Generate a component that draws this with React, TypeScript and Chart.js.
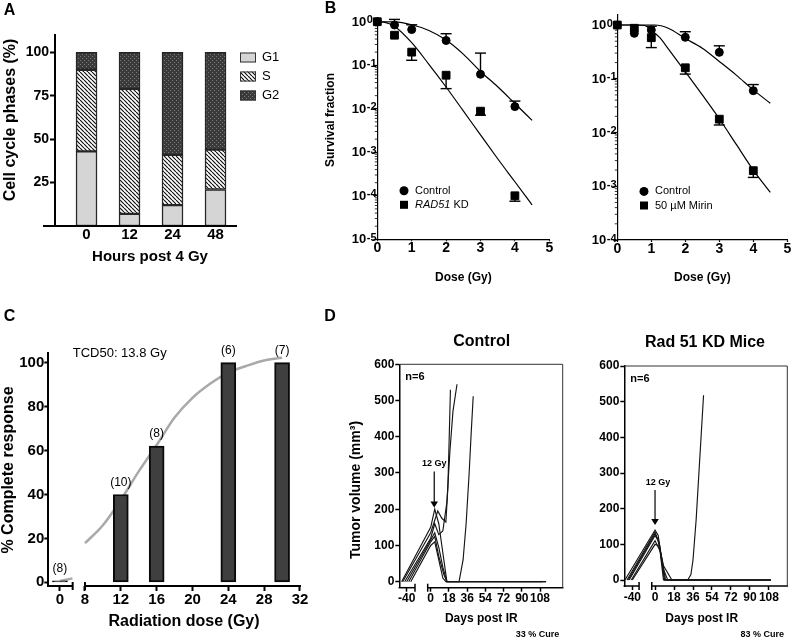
import React, { useEffect, useRef } from 'react';
import { Chart, registerables, LinearScale } from 'chart.js';

const FAMILY = '"Liberation Sans", Arial, Helvetica, sans-serif';

Chart.register(...registerables);
Chart.defaults.color = '#000';
Chart.defaults.font.family = FAMILY;

// ================= DATA =================
// Panel A – cell cycle phases (%)
const A_HOURS = ['0', '12', '24', '48'];
const A_PHASES = ['G1', 'S', 'G2'];
const A_G1 = [43, 7, 12, 21];
const A_S = [47, 72, 29, 23];
const A_G2 = [10, 21, 59, 56];
const A_Y_TICKS = [25, 50, 75, 100];

// Panel B – survival fraction
const B_DOSE = [0, 0.5, 1, 2, 3, 4];
const B_X_TICKS = [0, 1, 2, 3, 4, 5];
const B1_CONTROL = [1.0, 0.84, 0.66, 0.37, 0.062, 0.0112];
const B1_CONTROL_ERR_HI = [null, 1.13, 0.85, 0.53, 0.19, 0.015];
const B1_KD = [1.0, 0.49, 0.2, 0.059, 0.0088, 0.0001];
const B1_KD_ERR_LO = [null, null, 0.13, 0.029, 0.0071, 0.000075];
const B1_CONTROL_FIT_DOSE = [0, 0.5, 1, 1.5, 2, 2.5, 3, 3.5, 4, 4.5];
const B1_CONTROL_FIT = [1, 0.99, 0.85, 0.63, 0.38, 0.18, 0.072, 0.032, 0.0132, 0.0054];
const B1_KD_FIT_DOSE = [0, 0.25, 0.5, 1, 1.5, 2, 2.5, 3, 3.5, 4, 4.5];
const B1_KD_FIT = [1, 0.955, 0.79, 0.33, 0.105, 0.0316, 0.0089, 0.0025, 0.00071, 0.00021, 0.000062];
const B1_Y_EXP = [0, -1, -2, -3, -4, -5];

const B2_CONTROL = [1.0, 0.7, 0.81, 0.59, 0.31, 0.06];
const B2_CONTROL_ERR_HI = [null, null, 0.95, 0.75, 0.41, 0.078];
const B2_MIRIN = [1.0, 0.87, 0.58, 0.16, 0.0177, 0.00195];
const B2_MIRIN_ERR_LO = [null, null, 0.38, 0.122, 0.0138, 0.00146];
const B2_CONTROL_FIT_DOSE = [0, 0.5, 1, 1.1, 1.5, 2, 2.5, 3, 3.5, 4, 4.5];
const B2_CONTROL_FIT = [1, 1, 1, 1, 0.87, 0.56, 0.37, 0.21, 0.117, 0.062, 0.035];
const B2_MIRIN_FIT_DOSE = [0, 0.5, 0.8, 1, 1.25, 1.5, 2, 2.5, 3, 3.5, 4, 4.5];
const B2_MIRIN_FIT = [1, 1, 0.98, 0.8, 0.58, 0.36, 0.135, 0.05, 0.018, 0.006, 0.002, 0.00077];
const B2_Y_EXP = [0, -1, -2, -3, -4];

// Panel C – % complete response
const C_DOSE = [0, 12, 16, 24, 30];
const C_RESPONSE = [0.7, 40, 62, 100, 100];
const C_N = [8, 10, 8, 6, 7];
const C_X_TICKS = [0, 8, 12, 16, 20, 24, 28, 32];
const C_Y_TICKS = [0, 20, 40, 60, 80, 100];
const C_FIT_LOW_DOSE = [0, 1.4];
const C_FIT_LOW = [0.6, 1.8];
const C_FIT_DOSE = [8, 10, 12, 14, 16, 18, 20, 22, 24, 26, 28, 30];
const C_FIT = [17.8, 26, 37.5, 50.5, 62.5, 75, 84, 90.5, 95.5, 98.5, 101, 102.3];

// Panel D – tumor volume (day, mm3)
const D_X_TICKS = [-40, 0, 18, 36, 54, 72, 90, 108];
const D_Y_TICKS = [0, 100, 200, 300, 400, 500, 600];
const CTRL_M1 = [[-45, 0], [0, 150], [4, 200], [8, 160], [12, 80], [16, 0], [114, 0]];
const CTRL_M2 = [[-44, 0], [0, 135], [7, 195], [11, 175], [15, 165], [17, 260], [18.5, 420], [19.5, 530]];
const CTRL_M3 = [[-42, 0], [0, 120], [4, 160], [8, 130], [12, 140], [16, 220], [19, 360], [22, 470], [26, 545]];
const CTRL_M4 = [[-40, 0], [0, 115], [4, 135], [8, 95], [12, 40], [16, 0], [28, 0], [32, 60], [35, 160], [38, 300], [40, 410], [42, 512]];
const CTRL_M5 = [[-38, 0], [0, 110], [4, 125], [8, 70], [13, 20], [16, 0], [114, 0]];
const CTRL_M6 = [[-36, 0], [0, 100], [4, 110], [8, 60], [12, 10], [15, 0], [110, 0]];
const KD_M1 = [[-47, 0], [0, 140], [3, 125], [6, 60], [9, 0], [110, 0]];
const KD_M2 = [[-45, 0], [0, 135], [4, 100], [8, 0], [110, 0]];
const KD_M3 = [[-43, 0], [0, 125], [3, 110], [7, 50], [10, 0], [110, 0]];
const KD_M4 = [[-41, 0], [0, 110], [5, 80], [9, 0], [110, 0]];
const KD_M5 = [[-40, 0], [0, 100], [4, 95], [8, 40], [16, 0], [52, 0]];
const KD_M6 = [[-44, 0], [0, 130], [4, 105], [8, 30], [12, 0], [31, 0], [34, 15], [36, 56], [39, 170], [42, 320], [46, 518]];
const D1_ARROW = { day: 3.5, top: 304, tip: 205, label: 327, dx: 0 };
const D2_ARROW = { day: 0, top: 252, tip: 154, label: 273, dx: 3 };

// ================= LAYOUT =================
type Rect = { x: number; y: number; w: number; h: number };
type Area = { L: number; T: number; R: number; B: number };

const RECT_A: Rect = { x: 0, y: 0, w: 300, h: 300 };
const AREA_A: Area = { L: 55, T: 35, R: 237, B: 226 };
const RECT_B1: Rect = { x: 300, y: 0, w: 260, h: 300 };
const AREA_B1: Area = { L: 377.3, T: 17.5, R: 549.3, B: 239.3 };
const RECT_B2: Rect = { x: 550, y: 0, w: 250, h: 300 };
const AREA_B2: Area = { L: 617.3, T: 15, R: 787.3, B: 240 };
const RECT_C: Rect = { x: 0, y: 300, w: 330, h: 341 };
const AREA_C: Area = { L: 48.3, T: 352.7, R: 300, B: 586 };
const RECT_D1: Rect = { x: 320, y: 300, w: 265, h: 341 };
const AREA_D1: Area = { L: 399.3, T: 364.3, R: 562.7, B: 587.7 };
const RECT_D2: Rect = { x: 575, y: 300, w: 225, h: 341 };
const AREA_D2: Area = { L: 624.3, T: 366, R: 787.3, B: 586 };

const C_BREAK = { a0: -1.3, a1: 1.42, b0: 8, b1: 32, gap: 12.3 };
const D1_BREAK = { a0: -47.3, a1: -31.8, b0: -2.96, b1: 130.4, gap: 12.7 };
const D2_BREAK = { a0: -47.6, a1: -33.6, b0: -3.1, b1: 125.4, gap: 12.7 };

// ================= HELPERS =================
const bold = (size: number, lineHeight = 1.2) => ({ family: FAMILY, size, weight: 'bold', lineHeight });
const mk = (xs: number[], ys: any[]) => xs.map((x, i) => ({ x, y: ys[i] }));
const mkPairs = (pairs: number[][]) => pairs.map(([x, y]) => ({ x, y }));

function padFor(c: Rect, a: Area, yW: number, xH: number) {
  return { left: a.L - c.x - yW, top: a.T - c.y, right: c.x + c.w - a.R, bottom: c.y + c.h - a.B - xH };
}

function baseOptions(c: Rect, a: Area, yW: number, xH: number) {
  return {
    responsive: false,
    maintainAspectRatio: false,
    animation: false,
    devicePixelRatio: 1,
    events: [],
    layout: { padding: padFor(c, a, yW, xH) },
    plugins: { legend: { display: false }, tooltip: { enabled: false }, title: { display: false } },
  };
}

function yAxis(yW: number, tickLen: number, width: number, size: number, pad: number) {
  return {
    afterFit: (s: any) => { s.width = yW; },
    grid: { display: true, drawOnChartArea: false, drawTicks: true, tickLength: tickLen, tickWidth: width, tickColor: '#000', offset: false },
    border: { display: true, color: '#000', width },
    ticks: { autoSkip: false, font: bold(size), color: '#000', padding: pad },
  };
}

function xAxisBroken(type: string, brk: any, ticks: number[], xH: number, tickLen: number, width: number, size: number) {
  return {
    type, min: brk.a0, max: brk.b1, offset: false,
    afterBuildTicks: (s: any) => { s.ticks = ticks.map((value) => ({ value })); },
    afterFit: (s: any) => { s.height = xH; },
    grid: { display: true, drawOnChartArea: false, drawTicks: true, tickLength: tickLen, tickWidth: width, tickColor: '#000', offset: false },
    border: { display: false },
    ticks: { autoSkip: false, maxRotation: 0, minRotation: 0, padding: 0, font: bold(size), color: '#000', callback: (v: any) => String(v) },
  };
}

function txt(ctx: any, s: string, x: number, y: number, o: any) {
  ctx.save();
  ctx.font = `${o.italic ? 'italic ' : ''}${o.bold ? 'bold ' : ''}${o.size}px ${FAMILY}`;
  ctx.fillStyle = o.color || '#000';
  ctx.textAlign = o.align || 'center';
  ctx.textBaseline = o.base || 'middle';
  ctx.translate(x, y);
  if (o.rot) ctx.rotate(o.rot);
  ctx.fillText(s, 0, 0);
  ctx.restore();
}

function line(ctx: any, x1: number, y1: number, x2: number, y2: number, w = 1, color = '#000') {
  ctx.save();
  ctx.strokeStyle = color;
  ctx.lineWidth = w;
  ctx.beginPath();
  ctx.moveTo(x1, y1);
  ctx.lineTo(x2, y2);
  ctx.stroke();
  ctx.restore();
}

function makeBrokenScale(id: string, brk: any) {
  const { a0, a1, b0, b1, gap } = brk;
  class BrokenScale extends LinearScale {
    static id = id;
    static defaults = LinearScale.defaults;
    getPixelForValue(value: any) {
      if (value === null || value === undefined || isNaN(value)) return NaN;
      const self: any = this;
      const k = (self.width - gap) / ((a1 - a0) + (b1 - b0));
      const xa1 = self.left + (a1 - a0) * k;
      if (value <= a1) return self.left + (value - a0) * k;
      if (value >= b0) return xa1 + gap + (value - b0) * k;
      return xa1 + ((value - a1) / (b0 - a1)) * gap;
    }
    getValueForPixel(pixel: number) {
      const self: any = this;
      const k = (self.width - gap) / ((a1 - a0) + (b1 - b0));
      const xa1 = self.left + (a1 - a0) * k;
      if (pixel <= xa1) return a0 + (pixel - self.left) / k;
      if (pixel >= xa1 + gap) return b0 + (pixel - xa1 - gap) / k;
      return a1 + ((pixel - xa1) / gap) * (b0 - a1);
    }
  }
  return BrokenScale;
}

Chart.register(
  makeBrokenScale('brokenC', C_BREAK) as any,
  makeBrokenScale('brokenD1', D1_BREAK) as any,
  makeBrokenScale('brokenD2', D2_BREAK) as any,
);

function drawBrokenAxis(ctx: any, xs: any, y: number, brk: any, width: number) {
  const pa0 = xs.getPixelForValue(brk.a0);
  const pa1 = xs.getPixelForValue(brk.a1);
  const pb0 = xs.getPixelForValue(brk.b0);
  const pb1 = xs.getPixelForValue(brk.b1);
  line(ctx, pa0 - width / 2, y, pa1, y, width);
  line(ctx, pb0, y, pb1 + width / 2, y, width);
  line(ctx, pa1, y - 4, pa1, y + 4, width);
  line(ctx, pb0, y - 4, pb0, y + 4, width);
}

let patternCache: any = null;
function getPatterns() {
  if (patternCache) return patternCache;
  const hc = document.createElement('canvas');
  hc.width = 4; hc.height = 4;
  const h: any = hc.getContext('2d');
  h.fillStyle = '#fff';
  h.fillRect(0, 0, 4, 4);
  h.strokeStyle = '#111';
  h.lineWidth = 1.2;
  h.beginPath();
  for (const o of [-4, 0, 4]) { h.moveTo(o, 0); h.lineTo(o + 4, 4); }
  h.stroke();
  const dc = document.createElement('canvas');
  dc.width = 4; dc.height = 4;
  const d: any = dc.getContext('2d');
  d.fillStyle = '#3a3a3a';
  d.fillRect(0, 0, 4, 4);
  d.fillStyle = '#7c7c7c';
  d.fillRect(0, 0, 1, 1);
  d.fillRect(2, 2, 1, 1);
  patternCache = { hatch: h.createPattern(hc, 'repeat'), dots: d.createPattern(dc, 'repeat') };
  return patternCache;
}

const errorBarPlugin = {
  id: 'errorBars',
  afterDatasetsDraw(chart: any) {
    const ctx = chart.ctx;
    const ys = chart.scales.y;
    chart.data.datasets.forEach((ds: any, di: number) => {
      const meta = chart.getDatasetMeta(di);
      ['errHi', 'errLo'].forEach((key) => {
        const arr = ds[key];
        if (!arr) return;
        arr.forEach((v: any, i: number) => {
          if (v === null || v === undefined) return;
          const el = meta.data[i];
          const y2 = ys.getPixelForValue(v);
          line(ctx, el.x, el.y, el.x, y2, 1.4);
          line(ctx, el.x - 5.5, y2, el.x + 5.5, y2, 1.4);
        });
      });
    });
  },
};

// ================= PANEL A =================
function buildA() {
  const c = RECT_A, a = AREA_A;
  const pat = getPatterns();
  const fills = ['#d5d5d5', pat.hatch, pat.dots];
  const series = [A_G1, A_S, A_G2];
  return {
    type: 'bar',
    data: {
      datasets: series.map((vals, k) => ({
        label: A_PHASES[k],
        data: vals.map((y, i) => ({ x: i, y })),
        backgroundColor: fills[k],
        borderColor: '#262626',
        borderWidth: 1.5,
        borderSkipped: false,
        barThickness: 21,
      })),
    },
    options: {
      ...baseOptions(c, a, 30, 40),
      scales: {
        x: {
          type: 'linear', min: -0.733, max: 3.5, stacked: true, offset: false,
          afterBuildTicks: (s: any) => { s.ticks = A_HOURS.map((_, i) => ({ value: i })); },
          afterFit: (s: any) => { s.height = 40; },
          grid: { display: false, drawTicks: false, offset: false },
          border: { display: false },
          ticks: { autoSkip: false, maxRotation: 0, minRotation: 0, padding: 0, font: bold(15), color: '#000', callback: (v: any) => A_HOURS[v] ?? '' },
        },
        y: {
          min: 0, max: 110, stacked: true,
          ...yAxis(30, 5, 2, 14, 1),
          afterBuildTicks: (s: any) => { s.ticks = A_Y_TICKS.map((value) => ({ value })); },
        },
      },
    },
    plugins: [{
      id: 'decoA',
      afterDraw(chart: any) {
        const ctx = chart.ctx;
        const ca = chart.chartArea;
        const X = (v: number) => v - c.x, Y = (v: number) => v - c.y;
        line(ctx, ca.left - 12, ca.bottom, ca.right, ca.bottom, 2);
        A_PHASES.forEach((p, i) => {
          const cy = Y(57.5 + i * 19);
          ctx.save();
          ctx.fillStyle = fills[i];
          ctx.fillRect(X(240), cy - 5, 16, 10);
          ctx.strokeStyle = '#333';
          ctx.lineWidth = 1;
          ctx.strokeRect(X(240) + 0.5, cy - 5 + 0.5, 15, 9);
          ctx.restore();
          txt(ctx, p, X(262), cy, { size: 13, align: 'left' });
        });
        txt(ctx, 'A', X(9.5), Y(10.5), { size: 16, bold: true });
        txt(ctx, 'Cell cycle phases (%)', X(11), Y(120), { size: 16, bold: true, rot: -Math.PI / 2 });
        txt(ctx, 'Hours post 4 Gy', X(150), Y(257), { size: 15, bold: true });
      },
    }],
  };
}

// ================= PANEL B =================
function buildB(side: number) {
  const left = side === 0;
  const c = left ? RECT_B1 : RECT_B2;
  const a = left ? AREA_B1 : AREA_B2;
  const exps = left ? B1_Y_EXP : B2_Y_EXP;
  const yMin = left ? 1e-5 : 1e-4;
  const yMax = left ? 1.25 : 1.535;
  const pointStyleCommon = { pointBackgroundColor: '#000', pointBorderColor: '#000', pointBorderWidth: 1, showLine: false, clip: false };
  const fitCommon = { pointRadius: 0, borderColor: '#000', borderWidth: 1.2, cubicInterpolationMode: 'monotone', showLine: true, fill: false };
  return {
    type: 'line',
    data: {
      datasets: [
        { label: 'Control', data: mk(B_DOSE, left ? B1_CONTROL : B2_CONTROL), pointStyle: 'circle', pointRadius: 4, errHi: left ? B1_CONTROL_ERR_HI : B2_CONTROL_ERR_HI, ...pointStyleCommon },
        { label: left ? 'RAD51 KD' : '50 µM Mirin', data: mk(B_DOSE, left ? B1_KD : B2_MIRIN), pointStyle: 'rect', pointRadius: 5.5, errLo: left ? B1_KD_ERR_LO : B2_MIRIN_ERR_LO, ...pointStyleCommon },
        { label: 'Control fit', data: mk(left ? B1_CONTROL_FIT_DOSE : B2_CONTROL_FIT_DOSE, left ? B1_CONTROL_FIT : B2_CONTROL_FIT), ...fitCommon },
        { label: 'Treated fit', data: mk(left ? B1_KD_FIT_DOSE : B2_MIRIN_FIT_DOSE, left ? B1_KD_FIT : B2_MIRIN_FIT), ...fitCommon },
      ],
    },
    options: {
      ...baseOptions(c, a, 40, 30),
      scales: {
        x: {
          type: 'linear', min: 0, max: 5, offset: false,
          afterBuildTicks: (s: any) => { s.ticks = B_X_TICKS.map((value) => ({ value })); },
          afterFit: (s: any) => { s.height = 30; },
          grid: { display: true, drawOnChartArea: false, drawTicks: true, tickLength: 2, tickWidth: 1.2, tickColor: '#000', offset: false },
          border: { display: true, color: '#000', width: 1.2 },
          ticks: { autoSkip: false, maxRotation: 0, minRotation: 0, padding: 0, font: bold(14, 1), color: '#000', callback: (v: any) => String(v) },
        },
        y: {
          type: 'logarithmic', min: yMin, max: yMax,
          ...yAxis(40, 4, 1.2, 13, 2),
          afterBuildTicks: (s: any) => { s.ticks = exps.map((e) => ({ value: Math.pow(10, e) })); },
          ticks: { autoSkip: false, callback: () => '', font: bold(13) },
        },
      },
    },
    plugins: [errorBarPlugin, {
      id: 'decoB',
      afterDraw(chart: any) {
        const ctx = chart.ctx;
        const ca = chart.chartArea;
        const ys = chart.scales.y;
        const X = (v: number) => v - c.x, Y = (v: number) => v - c.y;
        const e0 = Math.min(...exps);
        for (let e = e0; e < 1; e++) {
          for (let m = 2; m <= 9; m++) {
            const v = m * Math.pow(10, e);
            if (v > yMax) continue;
            const py = ys.getPixelForValue(v);
            line(ctx, ca.left - 2.5, py, ca.left, py, 0.8);
          }
        }
        exps.forEach((e) => {
          const py = ys.getPixelForValue(Math.pow(10, e));
          txt(ctx, '10', ca.left - 11, py + 0.5, { size: 13, bold: true, align: 'right' });
          txt(ctx, String(e), ca.left - 10.5, py - 7, { size: 11, bold: true, align: 'left', base: 'top' });
        });
        const lx = ca.left + 26.7;
        const y1 = ca.bottom - 48.6, y2 = ca.bottom - 34.5;
        ctx.save();
        ctx.fillStyle = '#000';
        ctx.beginPath();
        ctx.arc(lx, y1, 4.5, 0, Math.PI * 2);
        ctx.fill();
        ctx.fillRect(lx - 4, y2 - 4, 8, 8);
        ctx.restore();
        txt(ctx, 'Control', lx + 11, y1, { size: 11, align: 'left' });
        if (left) {
          ctx.save();
          ctx.font = `italic 11px ${FAMILY}`;
          const w = ctx.measureText('RAD51').width;
          ctx.restore();
          txt(ctx, 'RAD51', lx + 11, y2, { size: 11, italic: true, align: 'left' });
          txt(ctx, ' KD', lx + 11 + w, y2, { size: 11, align: 'left' });
          txt(ctx, 'B', X(330.5), Y(9), { size: 16, bold: true });
          txt(ctx, 'Survival fraction', X(331), Y(120), { size: 12, bold: true, rot: -Math.PI / 2 });
        } else {
          txt(ctx, '50 µM Mirin', lx + 11, y2, { size: 11, align: 'left' });
        }
        txt(ctx, 'Dose (Gy)', (ca.left + ca.right) / 2, ca.bottom + 38, { size: 12, bold: true });
      },
    }],
  };
}

// ================= PANEL C =================
function buildC() {
  const c = RECT_C, a = AREA_C;
  const fitCommon = { type: 'line', pointRadius: 0, borderColor: '#a9a9a9', borderWidth: 2.5, cubicInterpolationMode: 'monotone', fill: false, showLine: true };
  return {
    type: 'bar',
    data: {
      datasets: [
        { label: '% Complete response', data: mk(C_DOSE, C_RESPONSE), backgroundColor: '#3f3f3f', borderColor: '#0a0a0a', borderWidth: 2, borderSkipped: false, barThickness: 15, clip: false },
        { label: 'fit low', data: mk(C_FIT_LOW_DOSE, C_FIT_LOW), ...fitCommon },
        { label: 'fit', data: mk(C_FIT_DOSE, C_FIT), ...fitCommon },
      ],
    },
    options: {
      ...baseOptions(c, a, 40, 40),
      scales: {
        x: {
          ...xAxisBroken('brokenC', C_BREAK, C_X_TICKS, 40, 5, 2, 15),
        },
        y: {
          min: -1.68, max: 104.55,
          ...yAxis(40, 4, 2, 15, 0),
          afterBuildTicks: (s: any) => { s.ticks = C_Y_TICKS.map((value) => ({ value })); },
        },
      },
    },
    plugins: [{
      id: 'decoC',
      afterDraw(chart: any) {
        const ctx = chart.ctx;
        const ca = chart.chartArea;
        const X = (v: number) => v - c.x, Y = (v: number) => v - c.y;
        drawBrokenAxis(ctx, chart.scales.x, ca.bottom, C_BREAK, 2);
        const meta = chart.getDatasetMeta(0);
        meta.data.forEach((el: any, i: number) => {
          txt(ctx, `(${C_N[i]})`, el.x, el.y - 12, { size: 12 });
        });
        txt(ctx, 'TCD50: 13.8 Gy', X(72.7), Y(353.3), { size: 13, align: 'left' });
        txt(ctx, 'C', X(9.5), Y(316.5), { size: 16, bold: true });
        txt(ctx, '% Complete response', X(8.5), Y(470), { size: 16, bold: true, rot: -Math.PI / 2 });
        txt(ctx, 'Radiation dose (Gy)', X(184), Y(621.7), { size: 16, bold: true });
      },
    }],
  };
}

// ================= PANEL D =================
function buildD(side: number) {
  const left = side === 0;
  const c = left ? RECT_D1 : RECT_D2;
  const a = left ? AREA_D1 : AREA_D2;
  const brk = left ? D1_BREAK : D2_BREAK;
  const arrow = left ? D1_ARROW : D2_ARROW;
  const mice = left ? [CTRL_M1, CTRL_M2, CTRL_M3, CTRL_M4, CTRL_M5, CTRL_M6] : [KD_M1, KD_M2, KD_M3, KD_M4, KD_M5, KD_M6];
  return {
    type: 'line',
    data: {
      datasets: mice.map((m, i) => ({
        label: `Mouse ${i + 1}`,
        data: mkPairs(m),
        borderColor: '#151515',
        borderWidth: 1.15,
        pointRadius: 0,
        tension: 0,
        fill: false,
      })),
    },
    options: {
      ...baseOptions(c, a, 40, 30),
      scales: {
        x: xAxisBroken(left ? 'brokenD1' : 'brokenD2', brk, D_X_TICKS, 30, 4, 1.5, 12),
        y: {
          min: left ? -16.56 : -16.8, max: 600,
          ...yAxis(40, 4, 1.5, 12, 1),
          afterBuildTicks: (s: any) => { s.ticks = D_Y_TICKS.map((value) => ({ value })); },
        },
      },
    },
    plugins: [{
      id: 'decoD',
      afterDraw(chart: any) {
        const ctx = chart.ctx;
        const ca = chart.chartArea;
        const xs = chart.scales.x, ys = chart.scales.y;
        const X = (v: number) => v - c.x, Y = (v: number) => v - c.y;
        drawBrokenAxis(ctx, xs, ca.bottom, brk, 1.5);
        line(ctx, ca.left, ca.top, ca.right, ca.top, 1, '#333');
        line(ctx, ca.right, ca.top, ca.right, ca.bottom, 1, '#333');
        txt(ctx, 'n=6', ca.left + 6, ca.top + 12.5, { size: 11, bold: true, align: 'left' });
        const ax = xs.getPixelForValue(arrow.day);
        const yTop = ys.getPixelForValue(arrow.top);
        const yTip = ys.getPixelForValue(arrow.tip);
        line(ctx, ax, yTop, ax, yTip - 5, 1.2);
        ctx.save();
        ctx.fillStyle = '#000';
        ctx.beginPath();
        ctx.moveTo(ax - 3.8, yTip - 6);
        ctx.lineTo(ax + 3.8, yTip - 6);
        ctx.lineTo(ax, yTip);
        ctx.closePath();
        ctx.fill();
        ctx.restore();
        txt(ctx, '12 Gy', ax + arrow.dx, ys.getPixelForValue(arrow.label), { size: 9, bold: true });
        if (left) {
          txt(ctx, 'D', X(330), Y(316.5), { size: 16, bold: true });
          txt(ctx, 'Control', X(481.7), Y(341.7), { size: 16, bold: true });
          txt(ctx, 'Tumor volume (mm³)', X(356), Y(490), { size: 14, bold: true, rot: -Math.PI / 2 });
          txt(ctx, 'Days post IR', X(481.3), Y(618.3), { size: 12, bold: true });
          txt(ctx, '33 % Cure', X(537.5), Y(635), { size: 9, bold: true });
        } else {
          txt(ctx, 'Rad 51 KD Mice', X(705), Y(342.7), { size: 16, bold: true });
          txt(ctx, 'Days post IR', X(701.7), Y(618.3), { size: 12, bold: true });
          txt(ctx, '83 % Cure', X(762.3), Y(635), { size: 9, bold: true });
        }
      },
    }],
  };
}

// ================= REACT =================
function PanelCanvas({ rect, build }: { rect: Rect; build: () => any }) {
  const ref = useRef<HTMLCanvasElement>(null);
  useEffect(() => {
    const chart = new Chart(ref.current as HTMLCanvasElement, build());
    return () => chart.destroy();
  }, []);
  return (
    <canvas
      ref={ref}
      width={rect.w}
      height={rect.h}
      style={{ position: 'absolute', left: rect.x, top: rect.y, width: rect.w, height: rect.h }}
    />
  );
}

export default function App() {
  return (
    <div style={{ position: 'absolute', left: 0, top: 0, width: 792, height: 641, overflow: 'hidden', background: '#fff' }}>
      <PanelCanvas rect={RECT_A} build={buildA} />
      <PanelCanvas rect={RECT_B1} build={() => buildB(0)} />
      <PanelCanvas rect={RECT_B2} build={() => buildB(1)} />
      <PanelCanvas rect={RECT_C} build={buildC} />
      <PanelCanvas rect={RECT_D1} build={() => buildD(0)} />
      <PanelCanvas rect={RECT_D2} build={() => buildD(1)} />
    </div>
  );
}
